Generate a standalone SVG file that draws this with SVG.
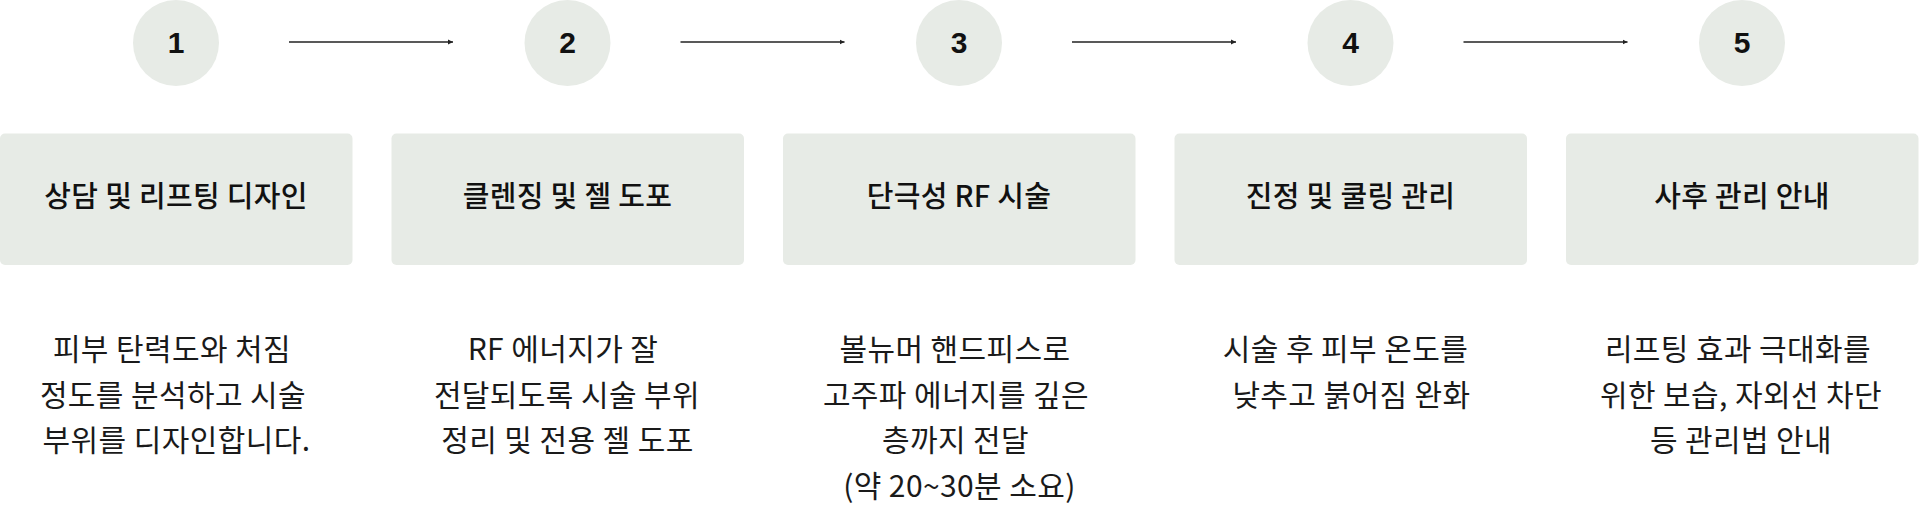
<svg xmlns="http://www.w3.org/2000/svg" width="1919" height="516" viewBox="0 0 1919 516">
<style>
.bg{fill:#ffffff}
.circ{fill:#e7ebe6}
.box{fill:#e7ebe6}
.num{font-family:"Liberation Sans",Arial,sans-serif;font-weight:700;font-size:30px;fill:#111;text-anchor:middle}
.ttl{font-family:"Noto Sans CJK KR","Noto Sans",sans-serif;font-weight:500;font-size:29px;letter-spacing:0.3px;fill:#111;text-anchor:middle}
.dsc{font-family:"Noto Sans CJK KR","Noto Sans",sans-serif;font-weight:400;font-size:30px;letter-spacing:0.4px;fill:#1a1a1a;text-anchor:middle}
.conn{stroke:#222;stroke-width:1.6;fill:none}
</style>
<defs>
<marker id="ah" markerWidth="6" markerHeight="6" refX="5" refY="3" orient="auto" markerUnits="userSpaceOnUse">
<path d="M0,0.5 L5,3 L0,5.5 Z" fill="#222"/>
</marker>
</defs>
<rect class="bg" x="0" y="0" width="1919" height="516"/>
<g id="connectors">
<line class="conn" x1="289" y1="42" x2="453" y2="42" marker-end="url(#ah)"/>
<line class="conn" x1="680.5" y1="42" x2="844.5" y2="42" marker-end="url(#ah)"/>
<line class="conn" x1="1072" y1="42" x2="1236" y2="42" marker-end="url(#ah)"/>
<line class="conn" x1="1463.5" y1="42" x2="1627.5" y2="42" marker-end="url(#ah)"/>
</g>
<g id="step1">
<circle class="circ" cx="176" cy="43" r="43"/>
<text class="num" x="176" y="53">1</text>
<rect class="box" x="0" y="133.5" width="352.5" height="131.5" rx="5"/>
<text class="ttl" x="176" y="207">상담 및 리프팅 디자인</text>
<text class="dsc" x="172" y="360">피부 탄력도와 처짐</text>
<text class="dsc" x="173" y="405.5">정도를 분석하고 시술</text>
<text class="dsc" x="176.5" y="451">부위를 디자인합니다.</text>
</g>
<g id="step2">
<circle class="circ" cx="567.5" cy="43" r="43"/>
<text class="num" x="567.5" y="53">2</text>
<rect class="box" x="391.5" y="133.5" width="352.5" height="131.5" rx="5"/>
<text class="ttl" x="567.5" y="207">클렌징 및 젤 도포</text>
<text class="dsc" x="563" y="360">RF 에너지가 잘</text>
<text class="dsc" x="567" y="405.5">전달되도록 시술 부위</text>
<text class="dsc" x="567.5" y="451">정리 및 전용 젤 도포</text>
</g>
<g id="step3">
<circle class="circ" cx="959" cy="43" r="43"/>
<text class="num" x="959" y="53">3</text>
<rect class="box" x="783" y="133.5" width="352.5" height="131.5" rx="5"/>
<text class="ttl" x="959" y="207">단극성 RF 시술</text>
<text class="dsc" x="955" y="360">볼뉴머 핸드피스로</text>
<text class="dsc" x="956" y="405.5">고주파 에너지를 깊은</text>
<text class="dsc" x="955.5" y="451">층까지 전달</text>
<text class="dsc" x="959.5" y="496.5">(약 20~30분 소요)</text>
</g>
<g id="step4">
<circle class="circ" cx="1350.5" cy="43" r="43"/>
<text class="num" x="1350.5" y="53">4</text>
<rect class="box" x="1174.5" y="133.5" width="352.5" height="131.5" rx="5"/>
<text class="ttl" x="1350.5" y="207">진정 및 쿨링 관리</text>
<text class="dsc" x="1345.5" y="360">시술 후 피부 온도를</text>
<text class="dsc" x="1351.5" y="405.5">낮추고 붉어짐 완화</text>
</g>
<g id="step5">
<circle class="circ" cx="1742" cy="43" r="43"/>
<text class="num" x="1742" y="53">5</text>
<rect class="box" x="1566" y="133.5" width="352.5" height="131.5" rx="5"/>
<text class="ttl" x="1742" y="207">사후 관리 안내</text>
<text class="dsc" x="1738" y="360">리프팅 효과 극대화를</text>
<text class="dsc" x="1741" y="405.5">위한 보습, 자외선 차단</text>
<text class="dsc" x="1741" y="451">등 관리법 안내</text>
</g>
</svg>
